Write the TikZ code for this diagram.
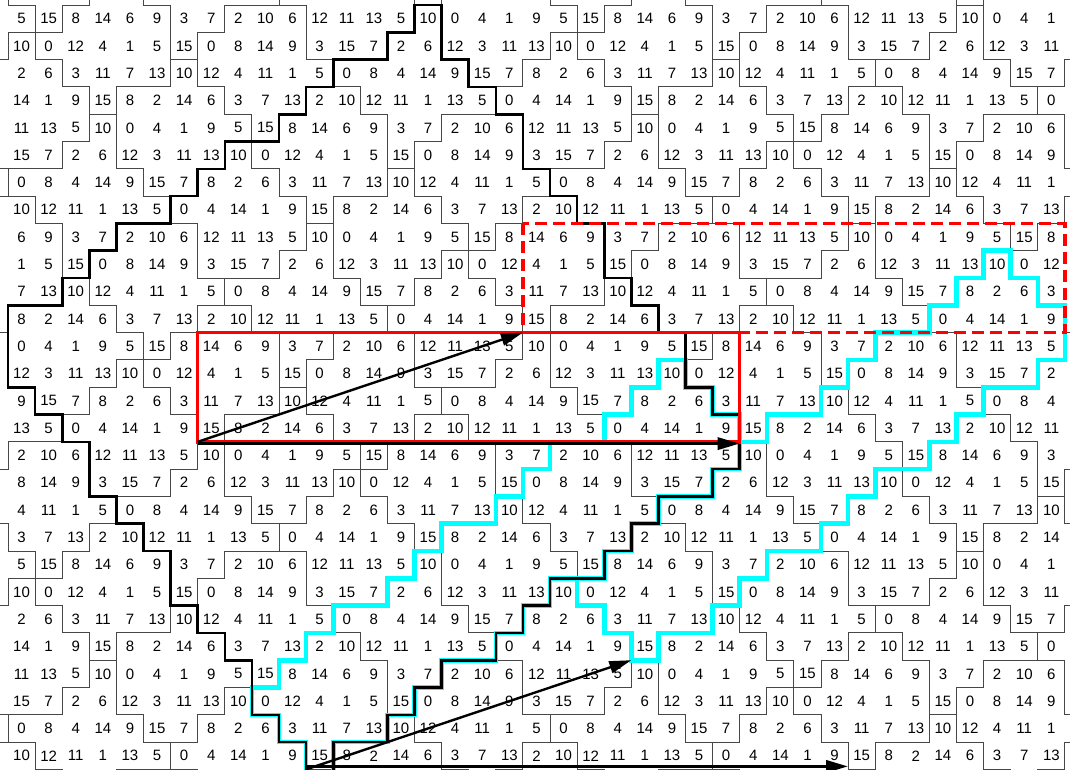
\documentclass[tikz,border=0pt]{standalone}
\usepackage{fontspec}
\setmainfont{Liberation Sans}
\usetikzlibrary{arrows.meta}
\definecolor{cyanline}{RGB}{0,255,255}
% region id of the 4x20 fundamental block (A=1,Q=2,R1=3,R2=4,R3=5)
\def\Marr{{5,4,1,1,1,1,3,3,4,4,4,2,2,2,2,3,5,5,5,5,2,1,1,1,1,1,3,4,4,4,4,2,2,2,3,3,5,5,5,5,2,2,1,1,1,1,5,4,4,4,4,4,3,3,3,3,3,5,5,2,2,2,2,1,5,5,5,5,4,4,4,1,1,3,3,3,3,3,2,2}}
% labels of the fundamental block
\def\Larr{{5,15,8,14,6,9,3,7,2,10,6,12,11,13,5,10,0,4,1,9,10,0,12,4,1,5,15,0,8,14,9,3,15,7,2,6,12,3,11,13,2,6,3,11,7,13,10,12,4,11,1,5,0,8,4,14,9,15,7,8,14,1,9,15,8,2,14,6,3,7,13,2,10,12,11,1,13,5,0,4}}
\newcommand\cellindex[2]{%
  \pgfmathtruncatemacro\myq{floor((#1)/4)}%
  \pgfmathtruncatemacro\mys{(#1)-4*(\myq)}%
  \pgfmathtruncatemacro\myidx{(\mys)*20+mod((#2)-8*(\myq)+200,20)}}
\newcommand\regionof[3]{\cellindex{#1}{#2}\pgfmathtruncatemacro#3{\Marr[\myidx]}}
\tikzset{
  grid line/.style={line width=1pt, draw=black!72, line cap=rect},
  cell text/.style={font=\fontsize{15}{15}\selectfont, inner sep=0pt},
  bold path/.style={line width=2.6pt, draw=black, line cap=rect},
  cyan path/.style={line width=4.6pt, draw=cyanline, line cap=rect},
  red box/.style={line width=3.4pt, draw=red},
  red dash/.style={line width=3.4pt, draw=red, dash pattern=on 12pt off 6pt},
  vec arrow/.style={line width=2.4pt, draw=black, -{Triangle[length=22pt,width=12pt]}},
}
\begin{document}
\begin{tikzpicture}[x=27.1pt,y=-27.3pt,shift={(8pt,-5pt)}]
\path[use as bounding box] (-8pt,5pt) rectangle (1062pt,-764pt);
\clip (-8pt,5pt) rectangle (1062pt,-764pt);
\fill[white] (-8pt,5pt) rectangle (1062pt,-764pt);
% thin region boundaries
\foreach \r in {-1,...,28}{
  \foreach \c in {-1,...,39}{
    \regionof{\r}{\c}\rega
    \pgfmathtruncatemacro\cnext{\c+1}
    \regionof{\r}{\cnext}\regb
    \pgfmathtruncatemacro\rnext{\r+1}
    \regionof{\rnext}{\c}\regc
    \ifnum\rega=\regb\else\draw[grid line] (\c+1,\r) -- (\c+1,\r+1);\fi
    \ifnum\rega=\regc\else\draw[grid line] (\c,\r+1) -- (\c+1,\r+1);\fi
  }
}
% numbers
\foreach \r in {0,...,27}{
  \foreach \c in {0,...,38}{
    \cellindex{\r}{\c}
    \pgfmathtruncatemacro\lab{\Larr[\myidx]}
    \node[cell text] (t-\r-\c) at (\c+0.5,\r+0.5) {\lab};
  }
}
% cyan staircases
\draw[cyan path] (39,11) -- (38,11) -- (38,10) -- (37,10) -- (37,9) -- (36,9) -- (36,10) -- (35,10) -- (35,11) -- (34,11) -- (34,12) -- (32,12) -- (32,13) -- (31,13) -- (31,14) -- (30,14) -- (30,15) -- (28,15) -- (28,16) -- (27,16) -- (27,17) -- (26,17) -- (26,18) -- (24,18) -- (24,19) -- (23,19) -- (23,20) -- (22,20) -- (22,21) -- (20,21) -- (20,22) -- (19,22) -- (19,23) -- (18,23) -- (18,24) -- (16,24) -- (16,25) -- (15,25) -- (15,26) -- (14,26) -- (14,27) -- (12,27) -- (12,28);
\draw[cyan path] (27,16) -- (27,15) -- (26,15) -- (26,14) -- (25,14) -- (25,13) -- (24,13) -- (24,14) -- (23,14) -- (23,15) -- (22,15) -- (22,16) -- (20,16) -- (20,17) -- (19,17) -- (19,18) -- (18,18) -- (18,19) -- (16,19) -- (16,20) -- (15,20) -- (15,21) -- (14,21) -- (14,22) -- (12,22) -- (12,23) -- (11,23) -- (11,24) -- (10,24) -- (10,25) -- (9,25) -- (9,26) -- (10,26) -- (10,27) -- (11,27) -- (11,28);
\draw[cyan path] (39,11) -- (39,13) -- (38,13) -- (38,14) -- (36,14) -- (36,15) -- (35,15) -- (35,16) -- (34,16) -- (34,17) -- (32,17) -- (32,18) -- (31,18) -- (31,19) -- (30,19) -- (30,20) -- (28,20) -- (28,21) -- (27,21) -- (27,22) -- (26,22) -- (26,23) -- (24,23) -- (24,24) -- (23,24) -- (23,23) -- (22,23) -- (22,22) -- (21,22) -- (21,21);
% bold black outline
\draw[bold path] (11,28) -- (11,27) -- (10,27) -- (10,26) -- (9,26) -- (9,24) -- (8,24) -- (8,23) -- (7,23) -- (7,22) -- (6,22) -- (6,20) -- (5,20) -- (5,19) -- (4,19) -- (4,18) -- (3,18) -- (3,16) -- (2,16) -- (2,15) -- (1,15) -- (1,14) -- (0,14) -- (0,11) -- (2,11) -- (2,10) -- (3,10) -- (3,9) -- (4,9) -- (4,8) -- (6,8) -- (6,7) -- (7,7) -- (7,6) -- (8,6) -- (8,5) -- (10,5) -- (10,4) -- (11,4) -- (11,3) -- (12,3) -- (12,2) -- (14,2) -- (14,1) -- (15,1) -- (15,0) -- (16,0) -- (16,2) -- (17,2) -- (17,3) -- (18,3) -- (18,4) -- (19,4) -- (19,6) -- (20,6) -- (20,7) -- (21,7) -- (21,8) -- (22,8) -- (22,10) -- (23,10) -- (23,11) -- (24,11) -- (24,12) -- (25,12) -- (25,14) -- (26,14) -- (26,15) -- (27,15) -- (27,17) -- (26,17) -- (26,18) -- (24,18) -- (24,19) -- (23,19) -- (23,20) -- (22,20) -- (22,21) -- (20,21) -- (20,22) -- (19,22) -- (19,23) -- (18,23) -- (18,24) -- (16,24) -- (16,25) -- (15,25) -- (15,26) -- (14,26) -- (14,27) -- (12,27) -- (12,28);
% red rectangles
\draw[red dash] (19,8) rectangle (39,12);
\draw[red box] (7,12) rectangle (27,16);
% lattice vectors
\coordinate (o1) at (7,16);
\coordinate (p1) at (19,12);
\coordinate (q1) at (27,16);
\coordinate (o2) at (11,28);
\coordinate (p2) at (23,24);
\coordinate (q2) at (31,28);
\draw[vec arrow, line width=3.2pt] ([yshift=-1.8pt]o1) -- ([yshift=-1.8pt]q1);
\draw[vec arrow] (o1) -- (p1);
\draw[vec arrow, line width=3.2pt] ([yshift=3pt]o2) -- ([yshift=3pt]q2);
\draw[vec arrow] (o2) -- (p2);
\end{tikzpicture}
\end{document}
